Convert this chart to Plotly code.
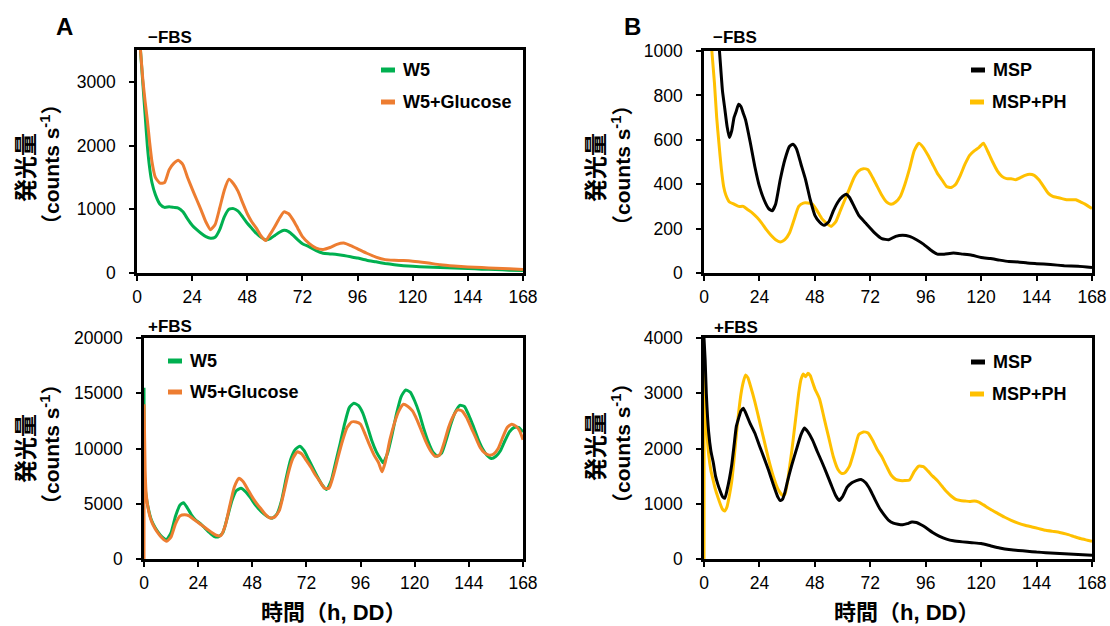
import plotly.graph_objects as go

W, H = 1110, 626

# ---------------- data ----------------
# Panel A, -FBS
a_top_w5_h = [1.5, 2.5, 3.5, 4.5, 5.5, 6.5, 8, 10, 12, 14, 16, 18, 20, 22, 24, 26, 28, 30, 32, 34, 36, 38, 40, 42, 44, 46, 48, 50, 52, 54, 56, 58, 60, 62, 64, 66, 68, 70, 72, 75, 78, 81, 84, 87, 90, 93, 96, 100, 104, 108, 112, 116, 120, 126, 132, 138, 144, 150, 156, 162, 168]
a_top_w5_v = [3500, 3000, 2500, 2000, 1650, 1420, 1230, 1080, 1030, 1040, 1030, 1020, 960, 850, 750, 680, 620, 570, 545, 560, 680, 880, 1000, 1010, 970, 880, 780, 700, 620, 560, 520, 540, 590, 640, 670, 650, 590, 520, 460, 410, 350, 310, 300, 290, 275, 255, 235, 200, 175, 150, 130, 115, 105, 95, 85, 78, 70, 60, 55, 45, 40]
a_top_glc_h = [1.5, 2.5, 3.5, 4.5, 5.5, 6.5, 8, 10, 12, 14, 16, 18, 20, 22, 24, 26, 28, 30, 32, 34, 36, 38, 40, 42, 44, 46, 48, 50, 52, 54, 56, 58, 60, 62, 64, 66, 68, 70, 72, 75, 78, 81, 84, 87, 90, 93, 96, 100, 104, 108, 112, 116, 120, 126, 132, 138, 144, 150, 156, 162, 168]
a_top_glc_v = [3500, 3050, 2700, 2400, 2050, 1750, 1500, 1410, 1420, 1620, 1720, 1770, 1700, 1500, 1320, 1150, 980, 800, 680, 760, 1020, 1300, 1470, 1400, 1280, 1100, 930, 800, 700, 580, 510, 610, 730, 860, 960, 930, 830, 700, 570, 460, 390, 370, 400, 450, 470, 430, 380, 310, 250, 210, 200, 195, 185, 160, 130, 110, 95, 85, 75, 65, 55]

# Panel A, +FBS
a_bot_w5_h = [0, 0.3, 1, 2, 3, 4, 6, 8, 10, 12, 14, 16, 17.5, 19, 21, 23, 25, 27, 29, 31, 33, 35, 37, 39, 41, 43, 45, 47, 49, 51, 53, 55, 57, 59, 61, 63, 65, 67, 69, 71, 73, 75, 77, 79, 81, 83, 85, 87, 89, 91, 93, 95, 97, 99, 101, 103, 105, 106, 108, 110, 112, 114, 116, 118, 120, 122, 124, 126, 128, 130, 132, 134, 136, 138, 140, 142, 144, 146, 148, 150, 152, 154, 156, 158, 160, 162, 164, 166, 168]
a_bot_w5_v = [15500, 7000, 5600, 4500, 3700, 3200, 2500, 2000, 1750, 2400, 3900, 4900, 5100, 4700, 4000, 3500, 3200, 2800, 2400, 2050, 2000, 2400, 3800, 5300, 6200, 6400, 6100, 5600, 5000, 4500, 4100, 3800, 3700, 4100, 5300, 7300, 9000, 9900, 10200, 9800, 9000, 8200, 7400, 6700, 6300, 7100, 8800, 10500, 12300, 13700, 14100, 13900, 13200, 12000, 10700, 9700, 9000, 8700, 9600, 11300, 13200, 14700, 15300, 15100, 14300, 13200, 11800, 10600, 9700, 9300, 9600, 10800, 12200, 13300, 13900, 13800, 13000, 12000, 10900, 10000, 9400, 9100, 9300, 9800, 10700, 11500, 11900, 11900, 11500]
a_bot_glc_h = [0, 0.05, 0.5, 1, 2, 3, 4, 6, 8, 10, 12, 14, 16, 18, 20, 22, 24, 26, 28, 30, 32, 34, 36, 38, 40, 42, 44, 46, 48, 50, 52, 54, 56, 58, 60, 62, 64, 66, 68, 70, 72, 74, 76, 78, 80, 82, 84, 86, 88, 90, 92, 94, 96, 98, 100, 102, 104, 105.5, 107, 109, 111, 113, 115, 117, 119, 121, 123, 125, 127, 129, 131, 133, 135, 137, 139, 141, 143, 145, 147, 149, 151, 153, 155, 157, 159, 161, 163, 165, 166.5, 168]
a_bot_glc_v = [0, 14000, 8000, 5800, 4400, 3600, 3100, 2400, 1900, 1600, 2000, 3200, 3900, 4000, 3900, 3600, 3300, 3000, 2700, 2400, 2150, 2100, 3000, 4800, 6500, 7300, 7000, 6300, 5600, 5000, 4500, 4000, 3700, 3800, 4400, 6000, 7800, 9100, 9700, 9500, 8900, 8300, 7600, 7000, 6400, 6400, 7600, 9200, 10700, 11900, 12400, 12400, 12200, 11300, 10300, 9400, 8700, 7900, 8800, 10800, 12300, 13400, 14000, 13800, 13400, 12600, 11600, 10600, 9800, 9300, 9400, 10500, 11900, 12900, 13500, 13400, 12800, 11900, 11000, 10100, 9600, 9400, 9500, 10000, 11000, 11900, 12200, 12000, 11600, 10800]

# Panel B, -FBS
b_top_msp_h = [5, 6.7, 8, 9, 10, 11, 12, 13, 14, 15, 16, 17, 18, 20, 22, 24, 26, 28, 29.5, 31, 33, 35, 37, 38.5, 40, 42, 44, 46, 48, 50, 52, 54, 56, 58, 60, 61.5, 63, 65, 67, 70, 74, 77, 80, 83, 86, 89, 92, 95, 98, 101, 104, 108, 112, 116, 120, 124, 128, 132, 136, 140, 144, 150, 156, 162, 168]
b_top_msp_v = [1200, 1000, 820, 740, 660, 610, 640, 700, 730, 760, 750, 720, 690, 590, 480, 390, 330, 290, 280, 310, 420, 510, 570, 580, 560, 490, 420, 330, 260, 230, 215, 230, 280, 320, 345, 355, 340, 300, 260, 225, 180, 155, 150, 165, 170, 165, 150, 130, 105, 85, 85, 90, 85, 80, 70, 65, 58, 52, 50, 45, 42, 38, 33, 30, 25]
b_top_ph_h = [3, 3.4, 4.5, 5.5, 6.5, 7.5, 8.5, 9.5, 11, 13, 15, 17, 19, 21, 23, 25, 27, 29, 31, 33, 35, 37, 39, 41, 43, 45, 47, 49, 51, 53, 55, 57, 59, 61, 63, 65, 67, 69, 71, 73, 75, 77, 79, 81, 83, 85, 87, 89, 91, 93, 95, 97, 99, 101, 103, 105, 107, 109, 111, 113, 115, 117, 119, 121, 123, 125, 127, 129, 131, 133, 135, 137, 139, 141, 143, 145, 147, 149, 151, 153, 155, 157, 159, 161, 163, 165, 168]
b_top_ph_v = [1100, 1000, 860, 700, 580, 470, 390, 350, 320, 310, 300, 300, 285, 270, 250, 225, 195, 170, 150, 140, 150, 180, 240, 300, 315, 315, 310, 280, 245, 225, 210, 230, 280, 330, 380, 430, 460, 470, 465, 430, 390, 350, 320, 310, 320, 345, 400, 470, 550, 585, 565, 530, 490, 450, 420, 390, 385, 400, 440, 490, 530, 550, 565, 585, 545, 500, 460, 435, 425, 425, 420, 430, 440, 445, 440, 420, 390, 360, 345, 340, 335, 330, 330, 330, 320, 310, 290]

# Panel B, +FBS
b_bot_msp_h = [0, 0.5, 1, 2, 3, 4, 5, 6, 7, 8, 9, 10, 11, 12, 13, 14, 15, 16, 17, 18, 19, 20, 22, 24, 26, 28, 30, 32, 33, 34, 35, 36, 38, 40, 42, 43.5, 45, 47, 49, 51, 53, 55, 57, 58.5, 60, 62, 64, 66, 68, 70, 72, 74, 76, 78, 80, 82, 84, 86, 88, 90, 92, 94, 96, 99, 102, 105, 108, 112, 116, 120, 124, 128, 132, 136, 140, 144, 148, 152, 156, 160, 164, 168]
b_bot_msp_v = [4000, 3600, 3000, 2300, 1950, 1750, 1500, 1350, 1230, 1130, 1100, 1250, 1450, 1700, 2050, 2400, 2550, 2680, 2730, 2650, 2550, 2450, 2280, 2050, 1830, 1600, 1350, 1120, 1060, 1080, 1200, 1380, 1700, 1980, 2250, 2370, 2300, 2150, 1950, 1760, 1560, 1350, 1150, 1060, 1130, 1300, 1380, 1420, 1440, 1380, 1250, 1080, 920, 800, 700, 650, 630, 620, 640, 670, 660, 620, 570, 480, 410, 360, 330, 310, 295, 280, 240, 200, 170, 155, 140, 125, 115, 105, 95, 85, 78, 70]
b_bot_ph_h = [0, 0.05, 0.5, 1, 2, 3, 4, 5, 6, 7, 8, 9, 10, 11, 12, 13, 14, 15, 16, 17, 18, 19, 20, 22, 24, 26, 28, 30, 32, 34, 35, 36, 37, 38, 39, 40, 41, 42, 43, 44, 45, 46, 47, 48, 50, 52, 54, 56, 58, 59.5, 61, 63, 65, 67, 69, 71, 73, 75, 77, 79, 81, 83, 85, 87, 89, 91, 93, 95, 97, 99, 101, 103, 105, 107, 109, 111, 113, 115, 117, 119, 121, 124, 127, 130, 133, 136, 139, 142, 145, 148, 151, 154, 157, 160, 163, 166, 168]
b_bot_ph_v = [0, 3800, 3100, 2500, 1900, 1600, 1420, 1250, 1120, 1000, 900, 870, 950, 1150, 1400, 1800, 2250, 2650, 2980, 3200, 3330, 3280, 3150, 2850, 2500, 2150, 1800, 1500, 1270, 1150, 1170, 1350, 1650, 1950, 2300, 2650, 3000, 3250, 3350, 3300, 3360, 3320, 3200, 3080, 2900, 2550, 2200, 1850, 1620, 1550, 1560, 1680, 1950, 2250, 2300, 2280, 2150, 1980, 1850, 1680, 1520, 1440, 1420, 1420, 1430, 1580, 1680, 1670, 1590, 1500, 1420, 1320, 1220, 1140, 1080, 1060, 1050, 1040, 1050, 1030, 980, 900, 830, 760, 700, 650, 610, 580, 550, 520, 500, 480, 450, 410, 370, 340, 320]

x_ticks = [0, 24, 48, 72, 96, 120, 144, 168]

GREEN = "#00B050"
ORANGE = "#ED7D31"
GOLD = "#FFC000"
BLACK = "#000000"

LATIN = "Liberation Sans, Arial, Noto Sans CJK JP, sans-serif"
CJK = "Noto Sans CJK JP, Liberation Sans, sans-serif"

fig = go.Figure()

def add(x, y, color, xa, ya, name):
    fig.add_trace(go.Scatter(x=x, y=y, mode="lines", name=name,
                             line=dict(color=color, width=3, shape="spline", smoothing=0.5),
                             xaxis=xa, yaxis=ya, showlegend=False))

add(a_top_w5_h, a_top_w5_v, GREEN, "x", "y", "W5")
add(a_top_glc_h, a_top_glc_v, ORANGE, "x", "y", "W5+Glucose")
add(a_bot_w5_h, a_bot_w5_v, GREEN, "x2", "y2", "W5")
add(a_bot_glc_h, a_bot_glc_v, ORANGE, "x2", "y2", "W5+Glucose")
add(b_top_ph_h, b_top_ph_v, GOLD, "x3", "y3", "MSP+PH")
add(b_top_msp_h, b_top_msp_v, BLACK, "x3", "y3", "MSP")
add(b_bot_ph_h, b_bot_ph_v, GOLD, "x4", "y4", "MSP+PH")
add(b_bot_msp_h, b_bot_msp_v, BLACK, "x4", "y4", "MSP")

def px_x(p):
    return p / W

def px_y(p):
    return 1 - p / H

axis_common = dict(showline=True, linecolor="black", linewidth=2.5, mirror=True,
                   ticks="outside", ticklen=5, tickwidth=2, tickcolor="black",
                   showgrid=False, zeroline=False,
                   tickfont=dict(family=LATIN, size=17.5, color="black"))

def xaxis(domain, anchor):
    return dict(axis_common, domain=domain, anchor=anchor, range=[0, 168],
                tickvals=x_ticks, ticklabelstandoff=1)

def yaxis(domain, anchor, rng, dt):
    return dict(axis_common, domain=domain, anchor=anchor, range=rng,
                tick0=0, dtick=dt, tickformat="d", ticklabelstandoff=10)

fig.update_layout(
    width=W, height=H, margin=dict(l=0, r=0, t=0, b=0, autoexpand=False),
    paper_bgcolor="white", plot_bgcolor="white",
    xaxis=xaxis([px_x(137), px_x(523)], "y"),
    yaxis=yaxis([px_y(273), px_y(50)], "x", [0, 3500], 1000),
    xaxis2=xaxis([px_x(144), px_x(523)], "y2"),
    yaxis2=yaxis([px_y(559), px_y(338)], "x2", [0, 20000], 5000),
    xaxis3=xaxis([px_x(704), px_x(1092)], "y3"),
    yaxis3=yaxis([px_y(273), px_y(51)], "x3", [0, 1000], 200),
    xaxis4=xaxis([px_x(704), px_x(1092)], "y4"),
    yaxis4=yaxis([px_y(559), px_y(338)], "x4", [0, 4000], 1000),
)

annotations = []
shapes = []

def text(x, y, s, size, family=LATIN, angle=0, xanchor="center"):
    annotations.append(dict(x=px_x(x), y=px_y(y), xref="paper", yref="paper", text=s,
                            showarrow=False, textangle=angle, xanchor=xanchor, yanchor="middle",
                            font=dict(family=family, size=size, color="black")))

# panel letters
text(64, 27, "<b>A</b>", 24)
text(633, 27, "<b>B</b>", 24)
# condition labels
text(146, 37, "<b>\u2212FBS</b>", 17, xanchor="left")
text(146, 326, "<b>+FBS</b>", 17, xanchor="left")
text(711, 37, "<b>\u2212FBS</b>", 17, xanchor="left")
text(712, 327, "<b>+FBS</b>", 17, xanchor="left")

# y axis titles
for (xc1, xc2, yc1, yc2) in [(24, 50, 168, 165), (24, 50, 449, 445), (594, 621, 168, 165), (594, 621, 447, 443)]:
    text(xc1, yc1, "<b>発光量</b>", 23, family=CJK, angle=-90)
    text(xc2, yc2, "<b>（counts s<sup>-1</sup>）</b>", 21, family=LATIN, angle=-90)

# x axis titles
text(333, 612, "<b>時間（h, DD）</b>", 22, family=LATIN)
text(906, 612, "<b>時間（h, DD）</b>", 22, family=LATIN)

# legends (hand-placed, as in the original)
def legend_item(x0, y, color, label):
    shapes.append(dict(type="line", xref="paper", yref="paper",
                       x0=px_x(x0), x1=px_x(x0 + 14), y0=px_y(y), y1=px_y(y),
                       line=dict(color=color, width=5)))
    text(x0 + 20, y, "<b>" + label + "</b>", 18, xanchor="left")

legend_item(381, 70, GREEN, "W5")
legend_item(381, 102, ORANGE, "W5+Glucose")
legend_item(168, 361, GREEN, "W5")
legend_item(168, 392, ORANGE, "W5+Glucose")
legend_item(971, 70, BLACK, "MSP")
legend_item(970, 102, GOLD, "MSP+PH")
legend_item(971, 362, BLACK, "MSP")
legend_item(970, 394, GOLD, "MSP+PH")

fig.update_layout(annotations=annotations, shapes=shapes)

fig.write_html("out.html")
